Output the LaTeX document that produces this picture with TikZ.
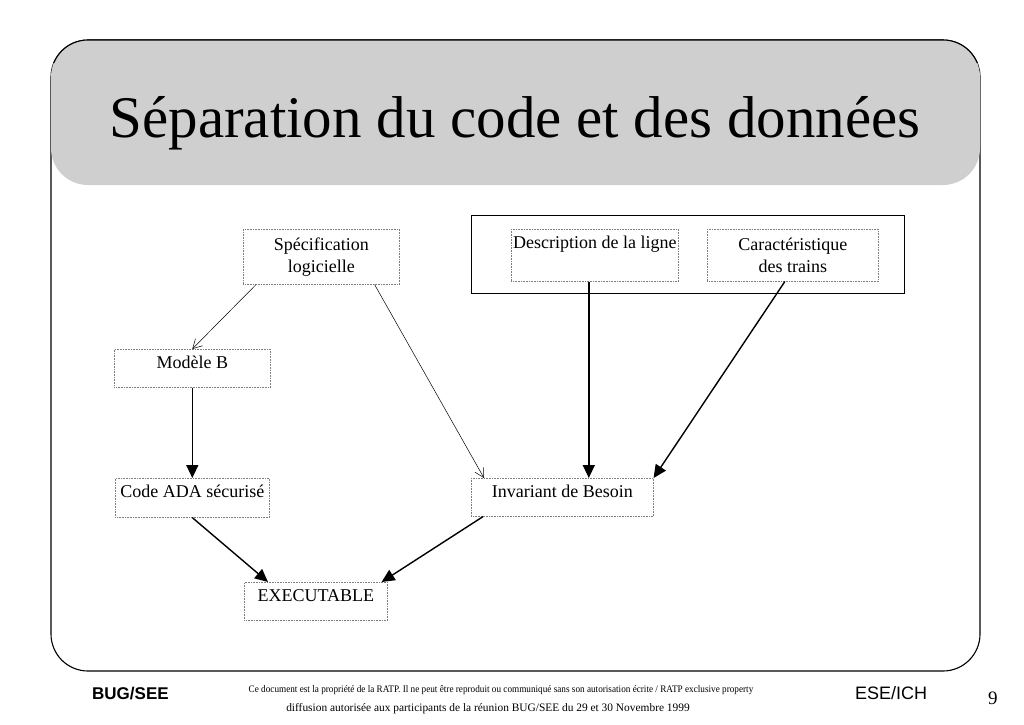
\documentclass[tikz,border=0pt]{standalone}
\usepackage{fontspec}
\setmainfont{Liberation Serif}
\newfontfamily\footsans{Liberation Sans}
\usepackage{tikz}
\usetikzlibrary{arrows.meta, positioning, calc}
\definecolor{bandgray}{RGB}{207, 207, 207}
\definecolor{dotgray}{RGB}{125, 125, 125}

\begin{document}
\begin{tikzpicture}[x=1pt, y=-1pt,
  txtbox/.style={draw=dotgray, densely dotted, line width=0.6pt, anchor=north west, inner xsep=0pt, inner ysep=0pt, font=\fontsize{18}{22}\selectfont, text height=19pt},
  twobox/.style={draw=dotgray, densely dotted, line width=0.6pt, anchor=north west, inner sep=0pt, align=center, font=\fontsize{18}{22}\selectfont},
  thinarrow/.style={-{Straight Barb[length=9pt, width=10pt]}, line width=0.5pt},
  thickarrow/.style={-{Triangle[length=13pt, width=12pt]}, line width=1.4pt},
  foot/.style={inner sep=0pt, anchor=base west}
]
  \useasboundingbox (0,0) rectangle (1024,724);

  % Slide frame and title band
  \draw[line width=1.1pt, rounded corners=37pt] (51,40) rectangle (980,671);
  \fill[bandgray, rounded corners=37pt] (51,40) rectangle (980,185);
  \begin{scope}
    \clip (0,0) rectangle (1024,62);
    \draw[line width=1.1pt, rounded corners=37pt] (51,40) rectangle (980,671);
  \end{scope}
  \node[inner sep=0pt, anchor=base, font=\fontsize{59}{59}\selectfont] (title) at (515,137) {Séparation du code et des données};

  % Code branch
  \node[twobox, minimum width=156pt, minimum height=55pt] (spec) at (243,229) {Spécification\\logicielle};
  \node[txtbox, minimum width=156pt, text depth=19pt] (modele) at (114,349) {Modèle B};
  \node[txtbox, minimum width=154pt, text depth=20pt] (code) at (115,478) {Code ADA sécurisé};

  % Data branch
  \node[draw, line width=1.3pt, anchor=north west, minimum width=433pt, minimum height=78pt] (data) at (471,215) {};
  \node[txtbox, minimum width=167pt, text depth=33pt] (desc) at (511,229) {Description de la ligne};
  \node[twobox, minimum width=171pt, minimum height=52pt] (car) at (707,229) {Caractéristique\\des trains};
  \node[txtbox, minimum width=182pt, text depth=19pt] (inv) at (471,478) {Invariant de Besoin};

  % Result
  \node[txtbox, minimum width=143pt, text depth=19pt] (exec) at (244,582) {EXECUTABLE};

  \draw[thinarrow] ([xshift=13pt]spec.south west) -- (modele.north);
  \draw[thinarrow] ([xshift=-25pt]spec.south east) -- ([xshift=13pt]inv.north west);
  \draw[thickarrow] (modele.south) -- (code.north);
  \draw[thickarrow] ([xshift=-6pt]desc.south) -- ([xshift=-6pt]desc.south |- inv.north);
  \draw[thickarrow] ([xshift=-8pt]car.south) -- (inv.north east);
  \draw[thickarrow] (code.south) -- ([xshift=24pt]exec.north west);
  \draw[thickarrow] ([xshift=12pt]inv.south west) -- ([xshift=-6pt]exec.north east);

  % Footer
  \node[foot, font=\footsans\bfseries\fontsize{17}{17}\selectfont] (bug) at (92,699) {BUG/SEE};
  \node[foot, font=\footsans\fontsize{18}{18}\selectfont] (ese) at (855,699) {ESE/ICH};
  \node[foot, font=\fontsize{19}{19}\selectfont] (page) at (988,704) {9};
  \node[inner sep=0pt, anchor=base, xscale=0.92, font=\fontsize{10}{10}\selectfont] (notice) at (501,692) {Ce document est la propriété de la RATP. Il ne peut être reproduit ou communiqué sans son autorisation écrite / RATP exclusive property};
  \node[inner sep=0pt, anchor=base, font=\fontsize{11.4}{11.4}\selectfont] (diffu) at (488,711) {diffusion autorisée aux participants de la réunion BUG/SEE du 29 et 30 Novembre 1999};
\end{tikzpicture}
\end{document}
